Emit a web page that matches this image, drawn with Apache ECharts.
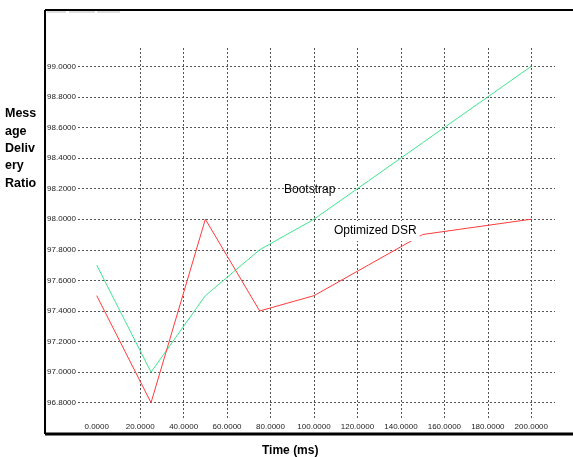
<!DOCTYPE html>
<html>
<head>
<meta charset="utf-8">
<script src="https://cdn.jsdelivr.net/npm/echarts@6/dist/echarts.min.js"></script>
<style>
  html, body { margin: 0; padding: 0; background: #fff; }
  #chart { width: 573px; height: 457px; }
</style>
</head>
<body>
<div id="chart"></div>
<script>
// Simulation time (ms) and delivery ratio for each protocol
const timesMs = [0, 25, 50, 75, 100, 125, 150, 175, 200];
const bootstrap = [97.7, 97.0, 97.5, 97.8, 98.0, 98.25, 98.5, 98.75, 99.0];
const optimizedDsr = [97.5, 96.8, 98.0, 97.4, 97.5, 97.7, 97.9, 97.95, 98.0];

// Tick layout
const xTickMin = 0, xTickMax = 200, xTickStep = 20;
const yTickMin = 96.8, yTickMax = 99.0, yTickStep = 0.2;

const yTitleLines = ['Mess', 'age', 'Deliv', 'ery', 'Ratio'];

const tickFont = { fontFamily: '"Liberation Sans", Arial, sans-serif', fontSize: 8, color: '#222' };
const gridDash = { color: '#555', width: 1, type: [2, 2] };

const chart = echarts.init(document.getElementById('chart'), null, { renderer: 'canvas' });

const pairs = (ys) => timesMs.map((t, i) => [t, ys[i]]);

const graphics = [
  // frame
  { type: 'line', shape: { x1: 45, y1: 10, x2: 573, y2: 10 }, style: { stroke: '#000', lineWidth: 2 }, z: 50 },
  { type: 'line', shape: { x1: 45, y1: 10, x2: 45, y2: 434 }, style: { stroke: '#000', lineWidth: 2 }, z: 50 },
  { type: 'line', shape: { x1: 45, y1: 434, x2: 573, y2: 434 }, style: { stroke: '#000', lineWidth: 3 }, z: 50 },
  { type: 'line', shape: { x1: 47, y1: 12, x2: 66, y2: 12 }, style: { stroke: '#bbb', lineWidth: 1 }, z: 50 },
  { type: 'line', shape: { x1: 69, y1: 12, x2: 95, y2: 12 }, style: { stroke: '#bbb', lineWidth: 1 }, z: 50 },
  { type: 'line', shape: { x1: 97, y1: 12, x2: 120, y2: 12 }, style: { stroke: '#bbb', lineWidth: 1 }, z: 50 },
  // axis title
  { type: 'text', x: 262, y: 451, style: { text: 'Time (ms)', font: 'bold 12px "Liberation Sans", Arial, sans-serif', fill: '#000', textVerticalAlign: 'middle' }, z: 50 },
  // series annotations
  { type: 'text', x: 284, y: 190, style: { text: 'Bootstrap', font: '12px "Liberation Sans", Arial, sans-serif', fill: '#000', textVerticalAlign: 'middle' }, z: 50 },
  { type: 'text', x: 334, y: 231, style: { text: 'Optimized DSR', font: '12px "Liberation Sans", Arial, sans-serif', fill: '#000', textVerticalAlign: 'middle', backgroundColor: '#fff', padding: [2, 3, 6, 0] }, z: 50 }
];
yTitleLines.forEach((s, i) => {
  graphics.push({ type: 'text', x: 5, y: 114 + i * 17.3, style: { text: s, font: 'bold 12.5px "Liberation Sans", Arial, sans-serif', fill: '#000', textVerticalAlign: 'middle' }, z: 50 });
});

chart.setOption({
  animation: false,
  backgroundColor: '#fff',
  grid: [
    { left: 75, right: 20, top: 51, bottom: 39 },          // data
    { left: 96.7, right: 41.7, top: 48, bottom: 37 },      // vertical grid + time labels
    { left: 78, right: 18, top: 66.3, bottom: 54.3 }       // horizontal grid + ratio labels
  ],
  xAxis: [
    { gridIndex: 0, type: 'value', min: -10, max: 210, show: false },
    {
      gridIndex: 1, type: 'value', min: xTickMin, max: xTickMax, interval: xTickStep,
      axisLine: { show: false }, axisTick: { show: false },
      axisLabel: Object.assign({ margin: 3, formatter: v => v.toFixed(4) }, tickFont),
      splitLine: { show: true, showMinLine: false, lineStyle: gridDash }
    },
    { gridIndex: 2, type: 'value', min: 0, max: 1, show: false }
  ],
  yAxis: [
    { gridIndex: 0, type: 'value', min: 96.7, max: 99.1, show: false },
    { gridIndex: 1, type: 'value', min: 0, max: 1, show: false },
    {
      gridIndex: 2, type: 'value', min: yTickMin, max: yTickMax, interval: yTickStep,
      axisLine: { show: false }, axisTick: { show: false },
      axisLabel: Object.assign({ margin: 2, formatter: v => v.toFixed(4) }, tickFont),
      splitLine: { show: true, lineStyle: gridDash }
    }
  ],
  series: [
    {
      name: 'Bootstrap', type: 'line', xAxisIndex: 0, yAxisIndex: 0,
      data: pairs(bootstrap), symbol: 'none',
      lineStyle: { color: '#3fe68e', width: 1 }, z: 5
    },
    {
      name: 'Optimized DSR', type: 'line', xAxisIndex: 0, yAxisIndex: 0,
      data: pairs(optimizedDsr), symbol: 'none',
      lineStyle: { color: '#ff3b3b', width: 1 }, z: 5
    }
  ],
  graphic: graphics
});
</script>
</body>
</html>
